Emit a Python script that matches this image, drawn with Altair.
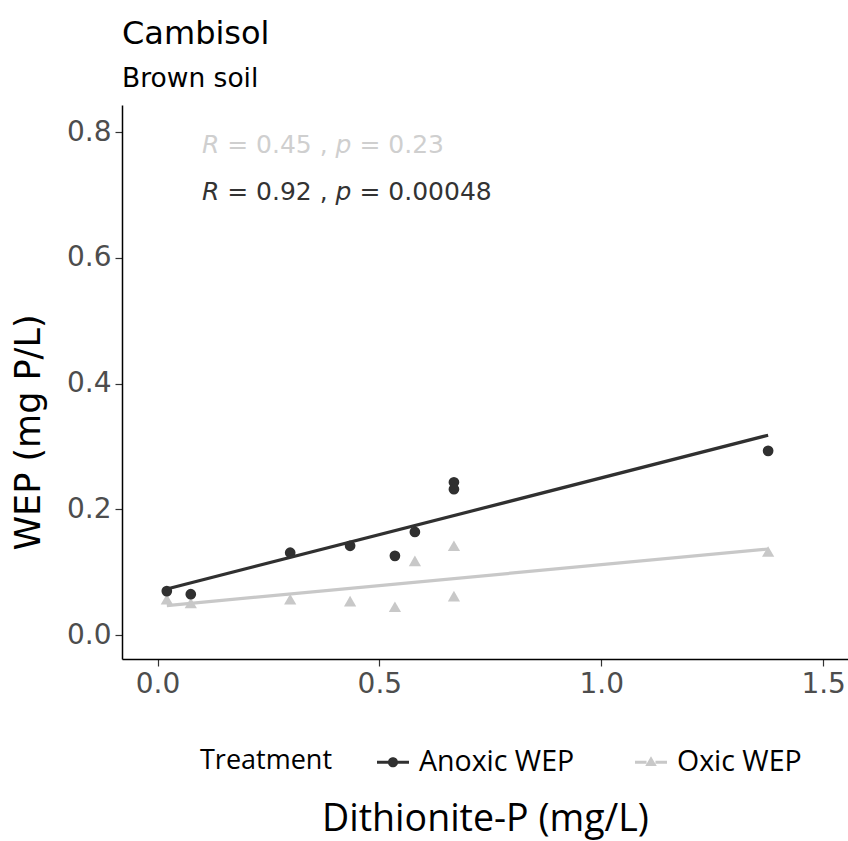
import altair as alt
import pandas as pd

# ---------------- data ----------------
treatments = ["Anoxic WEP", "Oxic WEP"]
series_colors = ["#303030", "#C8C8C8"]

dithionite_p = [0.021, 0.075, 0.299, 0.434, 0.535, 0.580, 0.668, 0.668, 1.376]
anoxic_wep = [0.070, 0.065, 0.131, 0.142, 0.126, 0.164, 0.243, 0.232, 0.293]
oxic_wep = [0.057, 0.051, 0.057, 0.054, 0.045, 0.118, 0.142, 0.062, 0.133]

x_ticks = [0.0, 0.5, 1.0, 1.5]
y_ticks = [0.0, 0.2, 0.4, 0.6, 0.8]

stat_treatment = ["Oxic WEP", "Anoxic WEP"]
stat_r = ["0.45", "0.92"]
stat_p = ["0.23", "0.00048"]
stat_x = [0.1, 0.1]
stat_y = [0.78, 0.705]

# ---------------- tables ----------------
rows = []
for x, y in zip(dithionite_p, oxic_wep):
    rows.append({"dith": x, "wep": y, "treatment": "Oxic WEP"})
for x, y in zip(dithionite_p, anoxic_wep):
    rows.append({"dith": x, "wep": y, "treatment": "Anoxic WEP"})
df = pd.DataFrame(rows)

stats = pd.DataFrame({
    "treatment": stat_treatment,
    "x": stat_x,
    "y": stat_y,
    "r_part": ["R"] * 2,
    "mid_part": [f"= {r} ," for r in stat_r],
    "p_part": ["p"] * 2,
    "end_part": [f"= {p}" for p in stat_p],
})

# ---------------- layout ----------------
W, H = 726, 554
xdom = [-0.08, 1.556]
ydom = [-0.038, 0.843]

xaxis = alt.Axis(
    values=x_ticks, format=".1f", title="Dithionite-P (mg/L)", grid=False,
    domainColor="black", domainWidth=1.5, tickColor="#333333", tickSize=7, tickWidth=1.2,
    labelFont="DejaVu Sans", labelFontSize=28, labelColor="#4D4D4D", labelPadding=4,
    labelFlush=False, labelOverlap=False, labelBound=False,
    titleFont="Open Sans", titleFontSize=37.5, titleFontWeight="normal", titleColor="black",
    titleBaseline="middle", titleY=160,
)
yaxis = alt.Axis(
    values=y_ticks, format=".1f", title="WEP (mg P/L)", grid=False,
    domainColor="black", domainWidth=1.5, tickColor="#333333", tickSize=7, tickWidth=1.2,
    labelFont="DejaVu Sans", labelFontSize=28, labelColor="#4D4D4D", labelPadding=4,
    labelFlush=False, labelOverlap=False, labelBound=False,
    titleFont="DejaVu Sans", titleFontSize=35, titleFontWeight="normal", titleColor="black",
    titleBaseline="middle", titleX=-94, titleY=327,
)

X = alt.X("dith:Q", scale=alt.Scale(domain=xdom, nice=False, zero=False), axis=xaxis)
Y = alt.Y("wep:Q", scale=alt.Scale(domain=ydom, nice=False, zero=False), axis=yaxis)


def color_enc(legend=None):
    return alt.Color("treatment:N", scale=alt.Scale(domain=treatments, range=series_colors), legend=legend)


base = alt.Chart(df)

points = base.mark_point(filled=True, opacity=1, strokeWidth=0).encode(
    x=X, y=Y,
    color=color_enc(),
    shape=alt.Shape("treatment:N", scale=alt.Scale(domain=treatments, range=["circle", "triangle-up"]), legend=None),
    size=alt.Size("treatment:N", scale=alt.Scale(domain=treatments, range=[115, 150]), legend=None),
)

lines = base.transform_regression("dith", "wep", groupby=["treatment"]).mark_line(strokeWidth=3.2).encode(
    x=X, y=Y, color=color_enc(),
)

path_anoxic = ("M-1,-0.09L-0.31,-0.09L-0.31,0.09L-1,0.09Z "
               "M0.31,-0.09L1,-0.09L1,0.09L0.31,0.09Z "
               "M0.32,0A0.32,0.32,0,1,1,-0.32,0A0.32,0.32,0,1,1,0.32,0Z")
path_oxic = ("M-1,-0.09L-0.28,-0.09L-0.28,0.09L-1,0.09Z "
             "M0.28,-0.09L1,-0.09L1,0.09L0.28,0.09Z "
             "M0,-0.38L0.36,0.24L-0.36,0.24Z")

leg = alt.Legend(
    orient="none", legendX=78, legendY=641, direction="horizontal",
    title="Treatment", titleOrient="left", titleFont="Open Sans", titleFontSize=27,
    titleFontWeight="normal", titleColor="black", titlePadding=44, titleBaseline="middle",
    labelFont="Open Sans", labelFontSize=28.5, labelColor="black", labelOffset=10,
    symbolSize=1024, symbolStrokeWidth=0, columnPadding=60, symbolOpacity=1,
)

legend_carrier = base.transform_filter("false").mark_point(filled=True, opacity=1).encode(
    x=X, y=Y,
    color=alt.Color("treatment:N", scale=alt.Scale(domain=treatments, range=series_colors), legend=leg),
    shape=alt.Shape("treatment:N", scale=alt.Scale(domain=treatments, range=[path_anoxic, path_oxic]), legend=leg),
)

# annotation texts (R and p italic); spaces between parts are given as offsets
fs = 25
em = {"R": 0.695, "p": 0.635, " ": 0.318, "=": 0.838, ".": 0.318, ",": 0.318}
def width(s):
    return sum(em.get(c, 0.636) for c in s) * fs

w_sp = width(" ")
dx_mid = width("R") + w_sp
dx_p = dx_mid + width(stats["mid_part"][0]) + w_sp
dx_end = dx_p + width("p") + w_sp

stat_base = alt.Chart(stats).encode(
    x=alt.X("x:Q", scale=alt.Scale(domain=xdom, nice=False, zero=False), axis=xaxis),
    y=alt.Y("y:Q", scale=alt.Scale(domain=ydom, nice=False, zero=False), axis=yaxis),
    color=alt.Color("treatment:N", scale=alt.Scale(domain=treatments, range=["#333333", "#CFCFCF"]), legend=None),
)
txt_kw = dict(font="DejaVu Sans", fontSize=fs, align="left", baseline="middle")
t1 = stat_base.mark_text(fontStyle="italic", dx=0, **txt_kw).encode(text="r_part:N")
t2 = stat_base.mark_text(dx=dx_mid, **txt_kw).encode(text="mid_part:N")
t3 = stat_base.mark_text(fontStyle="italic", dx=dx_p, **txt_kw).encode(text="p_part:N")
t4 = stat_base.mark_text(dx=dx_end, **txt_kw).encode(text="end_part:N")

chart = alt.layer(points, lines, legend_carrier, t1, t2, t3, t4).resolve_scale(
    color="independent", shape="independent", size="independent"
).properties(
    width=W, height=H,
    autosize=alt.AutoSizeParams(type="none"),
    padding={"left": 122, "top": 105, "right": 0, "bottom": 182},
    background="white",
    title=alt.TitleParams(
        text="Cambisol", subtitle="Brown soil", anchor="start", frame="group",
        font="DejaVu Sans", fontSize=32, fontWeight="normal", color="black",
        subtitleFont="DejaVu Sans", subtitleFontSize=26.5, subtitleColor="black",
        subtitlePadding=15, offset=12,
    ),
).configure_view(stroke=None)

chart.save("out.html", embed_options={"renderer": "svg", "actions": False})
